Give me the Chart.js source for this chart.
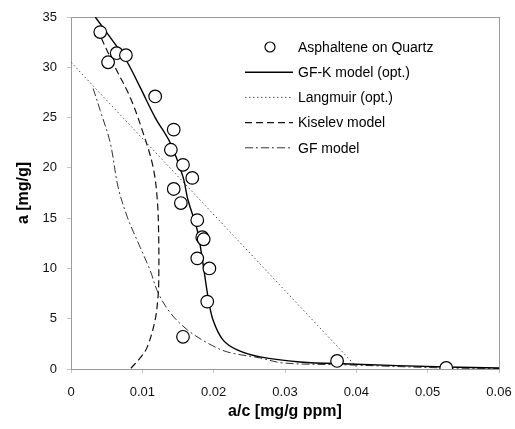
<!DOCTYPE html>
<html>
<head>
<meta charset="utf-8">
<script src="https://cdn.jsdelivr.net/npm/chart.js@4/dist/chart.umd.min.js"></script>
<style>
  html, body { margin: 0; padding: 0; background: #fff; }
  #wrap { width: 515px; height: 429px; }
</style>
</head>
<body>
<div id="wrap"><canvas id="chart" width="515" height="429"></canvas></div>
<script>
// measured adsorption: a/c vs a
const measuredX = [0.0041, 0.0052, 0.0064, 0.0077, 0.0118, 0.0144, 0.0140, 0.0157, 0.0170, 0.0144,
                   0.0154, 0.0177, 0.0184, 0.0186, 0.0177, 0.0194, 0.0191, 0.0157, 0.0373, 0.0526];
const measuredY = [33.5, 30.5, 31.4, 31.2, 27.1, 23.8, 21.8, 20.3, 19.0, 17.9,
                   16.5, 14.8, 13.1, 12.9, 11.0, 10.0, 6.7, 3.2, 0.8, 0.1];

// GF-K model (optimised)
const gfkX = [0.0034, 0.0065, 0.0079, 0.0097, 0.0118, 0.0139, 0.0157, 0.0164, 0.0177, 0.0185,
              0.0192, 0.0199, 0.0213, 0.0233, 0.0265, 0.0321, 0.0390, 0.0526, 0.0600];
const gfkY = [35.0, 32.0, 30.5, 28.0, 25.0, 22.5, 19.1, 16.8, 13.8, 10.5,
              7.2, 4.9, 2.9, 1.9, 1.2, 0.7, 0.5, 0.2, 0.1];

// Langmuir (optimised) - straight line in these coordinates
const langX = [0, 0.0403];
const langY = [30.5, 0];

// Kiselev model
const kisX = [0.0036, 0.0059, 0.0083, 0.0101, 0.0115, 0.0121, 0.0123, 0.0123, 0.0122, 0.0118, 0.0107, 0.0097, 0.0083];
const kisY = [33.9, 30.4, 27.0, 23.5, 20.1, 16.8, 12.8, 8.8, 7.2, 4.9, 2.2, 1.1, 0.0];

// GF model
const gfX = [0.0031, 0.0041, 0.0055, 0.0066, 0.0079, 0.0097, 0.0111, 0.0122, 0.0139, 0.0163,
             0.0191, 0.0219, 0.0265, 0.0297, 0.0391, 0.0526, 0.0600];
const gfY = [27.9, 25.7, 22.5, 18.1, 15.1, 12.1, 9.8, 7.6, 5.6, 3.9,
             2.6, 1.7, 1.1, 0.6, 0.4, 0.1, 0.05];

const xTicks = [0, 0.01, 0.02, 0.03, 0.04, 0.05, 0.06];
const yTicks = [0, 5, 10, 15, 20, 25, 30, 35];

const toPts = (xs, ys) => xs.map((x, i) => ({x: x, y: ys[i]}));
const FONT = '"Liberation Sans", Arial, sans-serif';

// grey frame round the plot area
const framePlugin = {
  id: 'frame',
  beforeDatasetsDraw(chart) {
    const {ctx, chartArea: a} = chart;
    ctx.save();
    ctx.strokeStyle = '#9a9a9a';
    ctx.lineWidth = 1;
    ctx.strokeRect(a.left + 0.5, a.top + 0.5, a.right - a.left, a.bottom - a.top);
    ctx.restore();
  }
};

// legend drawn inside the plot, line samples taken from the datasets
const insideLegend = {
  id: 'insideLegend',
  afterDraw(chart) {
    const {ctx, chartArea: a} = chart;
    const x0 = a.left + 174, x1 = a.left + 222, tx = a.left + 227;
    ctx.save();
    ctx.font = '14px ' + FONT;
    ctx.textBaseline = 'middle';
    chart.data.datasets.forEach((ds, i) => {
      const y = a.top + 30 + i * 25.2;
      if (ds.showLine) {
        ctx.beginPath();
        ctx.setLineDash(ds.borderDash || []);
        ctx.strokeStyle = ds.borderColor;
        ctx.lineWidth = ds.borderWidth;
        ctx.moveTo(x0, y);
        ctx.lineTo(x1, y);
        ctx.stroke();
        ctx.setLineDash([]);
      } else {
        ctx.beginPath();
        ctx.arc((x0 + x1) / 2 + 1, y, 5, 0, Math.PI * 2);
        ctx.fillStyle = '#fff';
        ctx.fill();
        ctx.strokeStyle = '#000';
        ctx.lineWidth = 1.2;
        ctx.stroke();
      }
      ctx.fillStyle = '#000';
      ctx.fillText(ds.label, tx, y + 1);
    });
    ctx.restore();
  }
};

const lineSet = (label, pts, dash, color, width, tension, order) => ({
  label: label,
  data: pts,
  showLine: true,
  borderColor: color,
  borderWidth: width,
  borderDash: dash,
  tension: tension,
  pointRadius: 0,
  fill: false,
  order: order
});

new Chart(document.getElementById('chart'), {
  type: 'scatter',
  data: {
    datasets: [
      {
        label: 'Asphaltene on Quartz',
        data: toPts(measuredX, measuredY),
        showLine: false,
        pointRadius: 6.3,
        pointBackgroundColor: '#fff',
        pointBorderColor: '#000',
        pointBorderWidth: 1.2,
        order: 0
      },
      lineSet('GF-K model (opt.)', toPts(gfkX, gfkY), [], '#000', 1.4, 0.35, 1),
      lineSet('Langmuir (opt.)', toPts(langX, langY), [1.5, 2.5], '#555', 1, 0, 2),
      lineSet('Kiselev model', toPts(kisX, kisY), [7, 4], '#111', 1.2, 0.35, 3),
      lineSet('GF model', toPts(gfX, gfY), [8, 3, 2, 3], '#333', 1, 0.35, 4)
    ]
  },
  options: {
    responsive: false,
    animation: false,
    layout: { padding: { top: 17, right: 16, left: 0, bottom: 0 } },
    plugins: {
      legend: { display: false },
      tooltip: { enabled: false }
    },
    scales: {
      x: {
        type: 'linear',
        min: 0,
        max: 0.06,
        afterBuildTicks: s => { s.ticks = xTicks.map(v => ({value: v})); },
        afterFit: s => { s.height = 60; s.paddingLeft = 0; s.paddingRight = 0; },
        border: { display: false },
        grid: { drawOnChartArea: false, tickLength: 4, color: '#c4c4c4' },
        ticks: {
          padding: 12,
          color: '#111',
          font: { family: FONT, size: 13 },
          callback: v => String(+v.toFixed(2))
        },
        title: {
          display: true,
          text: 'a/c [mg/g ppm]',
          color: '#000',
          font: { family: FONT, size: 16, weight: 'bold' },
          padding: { top: 0, bottom: 8 }
        }
      },
      y: {
        type: 'linear',
        min: 0,
        max: 35,
        afterBuildTicks: s => { s.ticks = yTicks.map(v => ({value: v})); },
        afterFit: s => { s.width = 71; s.paddingTop = 0; s.paddingBottom = 0; },
        border: { display: false },
        grid: { drawOnChartArea: false, tickLength: 4, color: '#c4c4c4' },
        ticks: {
          padding: 10,
          color: '#111',
          font: { family: FONT, size: 13 }
        },
        title: {
          display: true,
          text: 'a [mg/g]',
          color: '#000',
          font: { family: FONT, size: 16, weight: 'bold' },
          padding: { top: 14, bottom: 0 }
        }
      }
    }
  },
  plugins: [framePlugin, insideLegend]
});
</script>
</body>
</html>
